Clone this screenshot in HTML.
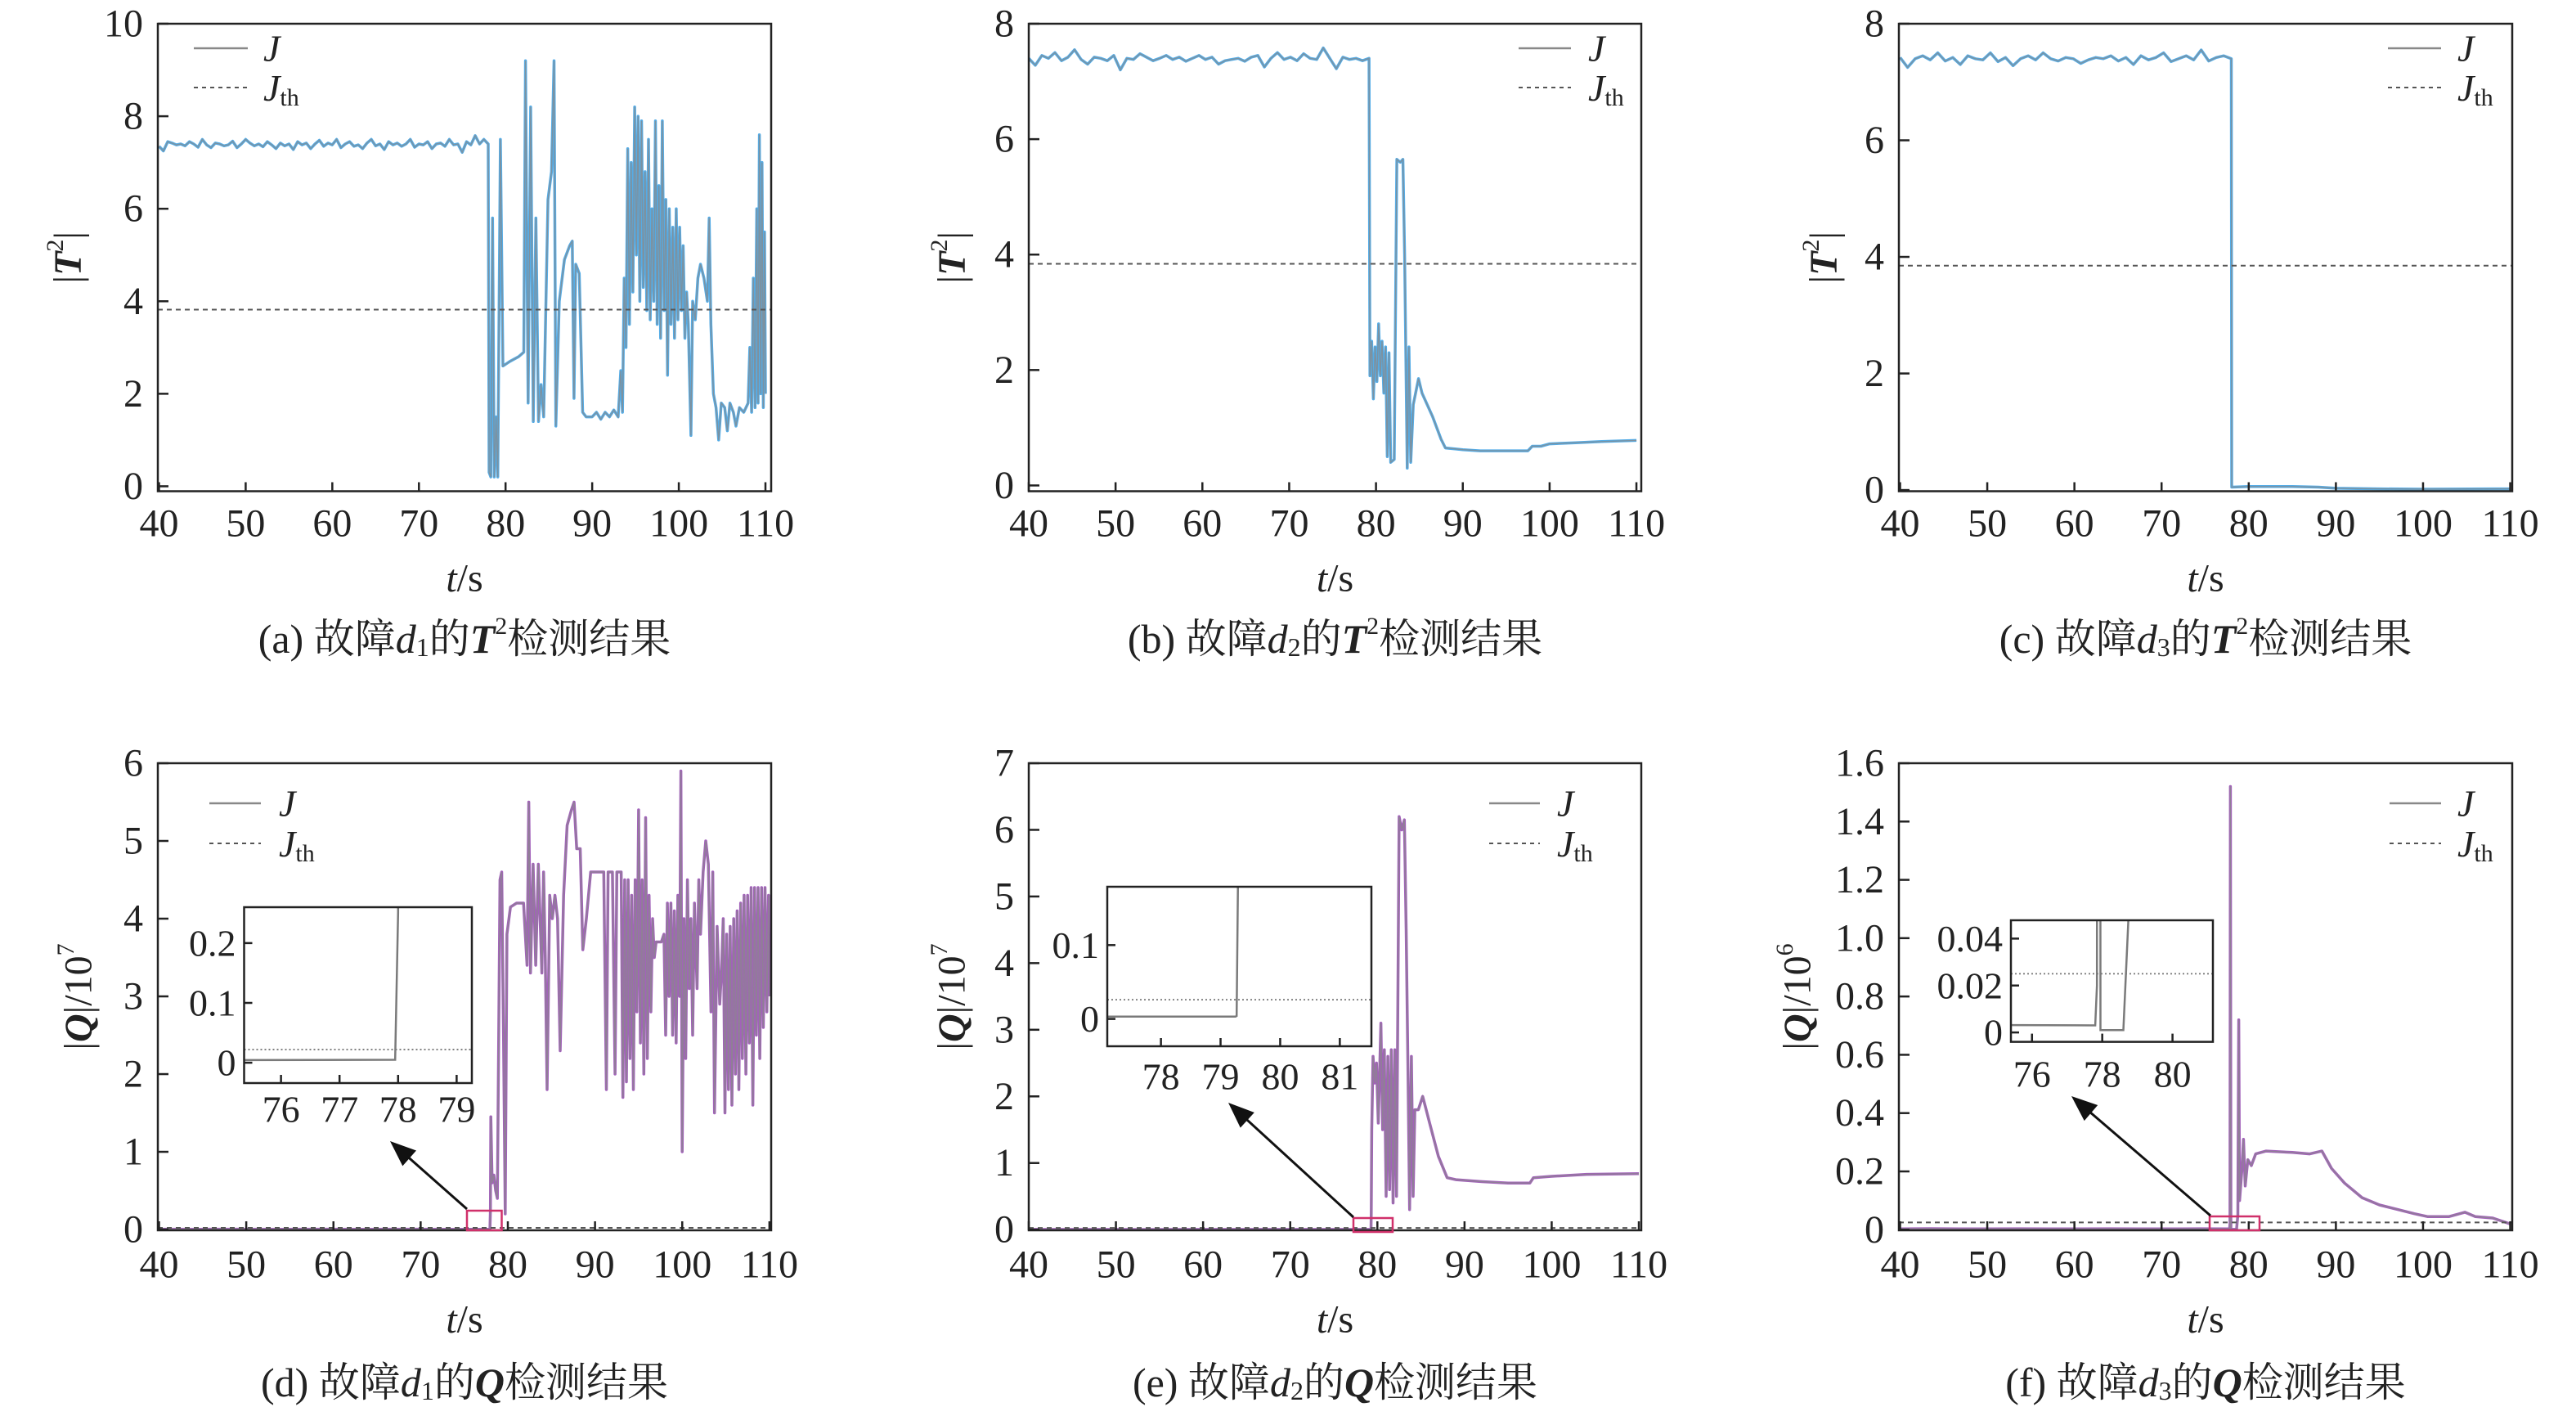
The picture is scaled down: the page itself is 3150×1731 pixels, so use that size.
<!DOCTYPE html>
<html><head><meta charset="utf-8">
<style>
html,body{margin:0;padding:0;background:#fff;}
svg{display:block;font-family:"Liberation Serif","Noto Serif CJK SC",serif;}
</style></head>
<body>
<svg id="chart" width="3150" height="1731" viewBox="0 0 3150 1731" xmlns="http://www.w3.org/2000/svg">
<defs></defs>
</svg>
<script>
// ---------- data ----------
const xTicks = [40,50,60,70,80,90,100,110];
const aYTicks = [0,2,4,6,8,10];
const bYTicks = [0,2,4,6,8];
const cYTicks = [0,2,4,6,8];
const dYTicks = [0,1,2,3,4,5,6];
const eYTicks = [0,1,2,3,4,5,6,7];
const fYTicks = [0,0.2,0.4,0.6,0.8,1.0,1.2,1.4,1.6];
const fYLabels = ["0","0.2","0.4","0.6","0.8","1.0","1.2","1.4","1.6"];

const aPre = [7.35,7.25,7.45,7.42,7.38,7.4,7.36,7.45,7.4,7.33,7.5,7.38,7.32,7.42,7.4,7.36,7.38,7.46,7.32,7.4,7.5,7.42,7.36,7.4,7.34,7.45,7.38,7.3,7.42,7.36,7.4,7.28,7.45,7.38,7.42,7.3,7.4,7.48,7.35,7.42,7.38,7.5,7.32,7.4,7.45,7.35,7.38,7.3,7.42,7.5,7.36,7.4,7.28,7.45,7.38,7.42,7.35,7.4,7.5,7.33,7.4,7.38,7.45,7.3,7.4,7.42,7.35,7.5,7.38,7.4,7.22,7.45,7.38,7.58,7.4,7.5,7.4];
const aFault = [[78.1,0.3],[78.3,0.2],[78.5,5.8],[78.7,0.2],[78.9,1.5],[79.1,0.2],[79.4,7.5],[79.7,2.6],[80.5,2.7],[81.5,2.8],[82.1,2.9],[82.3,9.2],[82.6,1.8],[82.9,8.2],[83.2,1.4],[83.5,5.8],[83.8,1.4],[84.1,2.2],[84.4,1.5],[84.9,6.2],[85.3,6.8],[85.6,9.2],[85.8,1.3],[86.2,4.0],[86.8,4.9],[87.4,5.2],[87.7,5.3],[87.9,1.9],[88.1,4.8],[88.5,4.6],[88.9,1.6],[89.3,1.5],[90,1.5],[90.5,1.6],[91,1.45],[91.5,1.6],[92,1.5],[92.5,1.65],[93,1.5],[93.3,2.5],[93.5,1.6],[93.7,4.5],[93.9,3.0],[94.1,7.3],[94.3,3.5],[94.5,7.0],[94.7,4.2],[94.9,8.2],[95.1,5.0],[95.3,8.0],[95.5,4.0],[95.7,7.9],[95.9,4.3],[96.1,6.8],[96.3,3.8],[96.5,7.5],[96.7,3.6],[96.9,6.0],[97.1,4.0],[97.3,7.9],[97.5,3.5],[97.7,6.5],[97.9,3.2],[98.1,7.9],[98.3,3.8],[98.5,6.2],[98.7,2.4],[98.9,6.0],[99.1,3.5],[99.3,5.6],[99.5,3.2],[99.7,6.0],[99.9,3.6],[100.1,5.6],[100.3,3.8],[100.5,5.2],[100.7,3.2],[100.9,4.2],[101.1,3.5],[101.4,1.1],[101.6,4.0],[101.9,3.6],[102.2,4.5],[102.5,4.8],[102.9,4.5],[103.3,4.0],[103.5,5.8],[103.7,3.5],[104.0,2.0],[104.3,1.7],[104.6,1.0],[104.9,1.8],[105.3,1.7],[105.6,1.2],[105.9,1.8],[106.3,1.6],[106.6,1.3],[107,1.7],[107.5,1.6],[108,1.8],[108.2,3.0],[108.4,1.6],[108.6,4.5],[108.8,1.7],[109,6.0],[109.15,1.8],[109.3,7.6],[109.45,2.0],[109.6,7.0],[109.75,1.7],[109.9,5.5],[110,2.0]];
const bPre = [7.4,7.28,7.45,7.4,7.5,7.36,7.42,7.55,7.38,7.3,7.42,7.4,7.36,7.45,7.2,7.4,7.38,7.48,7.42,7.36,7.4,7.45,7.38,7.42,7.35,7.4,7.45,7.38,7.42,7.3,7.36,7.38,7.4,7.35,7.42,7.45,7.25,7.4,7.5,7.38,7.42,7.36,7.48,7.4,7.38,7.58,7.4,7.22,7.42,7.38,7.4,7.36,7.4];
const bFault = [[79.3,1.9],[79.5,2.5],[79.7,1.5],[79.9,2.4],[80.1,1.8],[80.3,2.8],[80.5,1.9],[80.7,2.5],[80.9,1.6],[81.1,2.4],[81.3,0.5],[81.5,2.3],[81.7,0.4],[82.1,0.45],[82.4,5.65],[82.8,5.6],[83.1,5.65],[83.3,4.0],[83.6,0.3],[83.8,2.4],[84.0,0.4],[84.3,1.4],[84.9,1.85],[85.3,1.6],[86.5,1.2],[87.5,0.8],[88,0.65],[90,0.62],[92,0.6],[95,0.6],[97.5,0.6],[98,0.68],[99,0.68],[100,0.72],[103,0.74],[106,0.76],[110,0.78]];
const cPre = [7.42,7.25,7.4,7.45,7.38,7.5,7.36,7.42,7.3,7.45,7.4,7.38,7.5,7.35,7.42,7.28,7.4,7.45,7.38,7.5,7.4,7.36,7.42,7.4,7.32,7.38,7.42,7.4,7.45,7.36,7.42,7.3,7.45,7.38,7.42,7.5,7.35,7.4,7.45,7.38,7.55,7.36,7.42,7.45,7.4];
const cFault = [[78.05,0.05],[80,0.06],[85,0.06],[88,0.05],[90,0.03],[95,0.02],[100,0.015],[110,0.02]];
const dPre = [0.005,0.004,0.005,0.004,0.005,0.004,0.005,0.004,0.005];
const dFault = [[78.0,0.25],[78.05,1.45],[78.2,0.6],[78.4,0.7],[78.6,0.5],[78.8,0.4],[79.1,4.5],[79.3,4.6],[79.5,2.5],[79.7,0.2],[79.9,3.8],[80.3,4.15],[81,4.2],[81.8,4.2],[82.2,3.4],[82.4,5.5],[82.6,3.3],[82.9,4.7],[83.2,3.4],[83.5,4.7],[83.9,3.3],[84.1,4.6],[84.3,3.5],[84.5,1.8],[84.8,4.3],[85.1,4.0],[85.4,4.3],[85.7,4.0],[86,2.3],[86.4,4.3],[86.8,5.2],[87.3,5.4],[87.6,5.5],[87.9,4.9],[88.3,4.9],[88.6,3.6],[89,4.0],[89.5,4.6],[90,4.6],[90.5,4.6],[91,4.6],[91.3,1.8],[91.5,4.6],[92,4.6],[92.3,2.0],[92.5,4.6],[93,4.6],[93.2,1.7],[93.4,4.5],[93.6,1.9],[93.8,4.5],[94,2.2],[94.2,4.3],[94.4,1.8],[94.6,4.5],[94.8,2.8],[95,5.4],[95.2,2.4],[95.4,4.5],[95.6,2.0],[95.8,5.3],[96,2.2],[96.2,4.3],[96.4,2.8],[96.6,4.0],[96.8,3.5],[97,3.7],[97.3,3.7],[97.6,3.7],[97.9,3.8],[98.1,2.5],[98.3,4.2],[98.5,3.0],[98.7,4.2],[98.9,2.5],[99.1,4.1],[99.3,2.4],[99.5,4.3],[99.7,3.0],[99.85,5.9],[100,1.0],[100.2,4.0],[100.4,2.2],[100.6,4.5],[100.8,3.1],[101,4.0],[101.2,2.5],[101.4,4.2],[101.7,3.1],[101.9,4.5],[102.1,3.8],[102.4,4.6],[102.7,5.0],[103,4.7],[103.3,2.8],[103.5,4.6],[103.7,1.5],[104,3.9],[104.3,2.9],[104.5,3.3],[104.7,4.0],[104.9,1.5],[105.1,3.8],[105.3,1.8],[105.5,3.9],[105.7,1.6],[105.9,4.0],[106.1,2.0],[106.3,4.1],[106.5,1.8],[106.7,4.2],[106.9,2.2],[107.1,4.3],[107.3,2.0],[107.5,4.3],[107.7,2.4],[107.9,4.4],[108.1,1.6],[108.3,4.4],[108.5,2.5],[108.7,4.4],[108.9,2.2],[109.1,4.4],[109.3,2.6],[109.5,4.4],[109.7,2.8],[109.9,4.3],[110,3.0]];
const ePre = [0.003,0.0035,0.003,0.0028,0.0032,0.003,0.0035,0.003,0.0032];
const eFault = [[79.27,0.004],[79.3,0.25],[79.35,1.5],[79.5,2.6],[79.7,2.2],[79.9,2.5],[80.1,1.6],[80.4,3.1],[80.6,1.5],[80.8,2.7],[81,0.5],[81.2,2.6],[81.4,0.6],[81.6,2.7],[81.8,0.4],[82.0,2.7],[82.2,0.5],[82.5,6.2],[82.8,6.0],[83.1,6.15],[83.3,4.5],[83.5,2.5],[83.7,0.3],[83.9,2.6],[84.1,0.5],[84.3,1.8],[84.7,1.8],[85.2,2.0],[85.5,1.85],[86,1.6],[87,1.1],[88,0.78],[89,0.75],[92,0.72],[95,0.7],[97.5,0.7],[97.9,0.78],[100,0.8],[104,0.83],[110,0.84]];
const fPre = [0.003,0.0035,0.0028,0.003,0.0033,0.0029,0.0031,0.0034,0.003,0.0028,0.0032,0.003];
const fFault = [[77.85,0.02],[77.9,1.52],[77.95,0.001],[78.6,0.001],[78.75,0.05],[78.85,0.72],[78.95,0.1],[79.2,0.2],[79.4,0.31],[79.6,0.15],[79.9,0.24],[80.3,0.22],[80.8,0.26],[82,0.27],[85,0.265],[87,0.26],[88.4,0.27],[89.5,0.21],[91,0.16],[93,0.11],[95,0.085],[97,0.07],[99,0.055],[100.5,0.045],[103,0.045],[104.8,0.06],[106,0.045],[108,0.04],[109.5,0.025],[110,0.02]];
const thresholds = [3.82,3.84,3.85,0.022,0.026,0.025];
const dInsetX = [76,77,78,79];
const dInsetY = [0,0.1,0.2];
const eInsetX = [78,79,80,81];
const eInsetY = [0,0.1];
const fInsetX = [76,78,80];
const fInsetY = [0,0.02,0.04];

// ---------- drawing ----------
const NS = "http://www.w3.org/2000/svg";
const svg = document.getElementById('chart');
function mk(tag, parent){ const e = document.createElementNS(NS, tag); parent.appendChild(e); return e; }
function seriesPts(pre, preStart, preEnd, fault){
  const pts = [];
  for (let i=0;i<pre.length;i++) pts.push([preStart + i*(preEnd-preStart)/(pre.length-1), pre[i]]);
  for (const p of fault) pts.push(p);
  return pts;
}
let clipN = 0;
function addClip(x,y,w,h){
  const defs = svg.querySelector('defs');
  const cp = mk('clipPath', defs); cp.setAttribute('id','clip'+(++clipN));
  const r = mk('rect', cp); r.setAttribute('x',x); r.setAttribute('y',y); r.setAttribute('width',w); r.setAttribute('height',h);
  return 'url(#clip'+clipN+')';
}
function drawLines(g, pts, sx, sy, color, clip){
  const d = pts.map((p,i)=>(i?'L':'M')+sx(p[0]).toFixed(1)+','+sy(p[1]).toFixed(1)).join('');
  const c = mk('path', g);
  
  
  c.setAttribute('d', d); c.setAttribute('fill','none'); c.setAttribute('stroke',color); c.setAttribute('stroke-width','3.5'); c.setAttribute('clip-path',clip); c.setAttribute('stroke-linejoin','round');
  const gr = mk('path', g);
  
  
  gr.setAttribute('d', d); gr.setAttribute('fill','none'); gr.setAttribute('stroke','#8a8a8a'); gr.setAttribute('stroke-width','1.4'); gr.setAttribute('stroke-opacity','0.75'); gr.setAttribute('clip-path',clip);
}
function text(parent, x, y, str, size, anchor){
  const t = mk('text', parent);
  t.setAttribute('x',x); t.setAttribute('y',y); t.setAttribute('font-size',size);
  t.setAttribute('text-anchor',anchor||'middle'); t.setAttribute('dominant-baseline','central'); t.setAttribute('fill','#222');
  t.textContent = str; return t;
}
function panel(o){
  const g = mk('g', svg);
  
  
  const [L,T,R,B] = o.box;
  const sx = v => L + (v-o.xd[0])/(o.xd[1]-o.xd[0])*(R-L);
  const sy = v => B - (v-o.yd[0])/(o.yd[1]-o.yd[0])*(B-T);
  const clip = addClip(L,T,R-L,B-T);
  drawLines(g, o.pts, sx, sy, o.color, clip);
  const th = mk('line', g);
  
  
  th.setAttribute('x1',L); th.setAttribute('x2',R); th.setAttribute('y1',sy(o.thr)); th.setAttribute('y2',sy(o.thr));
  th.setAttribute('stroke','#555'); th.setAttribute('stroke-width','2'); th.setAttribute('stroke-dasharray','6,5');
  const frame = mk('rect', g);
  
  
  frame.setAttribute('x',L); frame.setAttribute('y',T); frame.setAttribute('width',R-L); frame.setAttribute('height',B-T);
  frame.setAttribute('fill','none'); frame.setAttribute('stroke','#222'); frame.setAttribute('stroke-width','2.5');
  xTicks.forEach(v=>{
    const tk = mk('line', g);
    
    
    tk.setAttribute('x1',sx(v)); tk.setAttribute('x2',sx(v)); tk.setAttribute('y1',B); tk.setAttribute('y2',B-11);
    tk.setAttribute('stroke','#222'); tk.setAttribute('stroke-width','2.5');
    const lb = text(g, sx(v), o.xLabelY, String(v), 48);
    
    
  });
  o.yt.forEach((v,i)=>{
    const tk = mk('line', g);
    
    
    tk.setAttribute('x1',L); tk.setAttribute('x2',L+13); tk.setAttribute('y1',sy(v)); tk.setAttribute('y2',sy(v));
    tk.setAttribute('stroke','#222'); tk.setAttribute('stroke-width','2.5');
    const lb = text(g, L-18, sy(v), o.yl ? o.yl[i] : String(v), 48, 'end');
    
    
  });
  const xt = mk('text', g);
  
  
  xt.setAttribute('x',(L+R)/2); xt.setAttribute('y',o.xTitleY); xt.setAttribute('font-size','48'); xt.setAttribute('text-anchor','middle'); xt.setAttribute('dominant-baseline','central'); xt.setAttribute('fill','#222');
  xt.innerHTML = '<tspan font-style="italic">t</tspan>/s';
  const yt = mk('text', g);
  
  
  yt.setAttribute('transform','translate('+o.yTitleX+','+(T+B)/2+') rotate(-90)');
  yt.setAttribute('font-size','48'); yt.setAttribute('text-anchor','middle'); yt.setAttribute('dominant-baseline','central'); yt.setAttribute('fill','#222');
  yt.innerHTML = o.yTitle;
  const cap = mk('text', g);
  
  
  cap.setAttribute('x',(L+R)/2); cap.setAttribute('y',o.capY); cap.setAttribute('font-size','50'); cap.setAttribute('text-anchor','middle'); cap.setAttribute('dominant-baseline','central'); cap.setAttribute('fill','#222');
  cap.innerHTML = o.caption;
  const lg = mk('g', g);
  
  
  const l1 = mk('line', lg);
  
  
  l1.setAttribute('x1',o.leg[0]); l1.setAttribute('x2',o.leg[1]); l1.setAttribute('y1',o.leg[3]); l1.setAttribute('y2',o.leg[3]); l1.setAttribute('stroke','#888'); l1.setAttribute('stroke-width','2.5');
  const l2 = mk('line', lg);
  
  
  l2.setAttribute('x1',o.leg[0]); l2.setAttribute('x2',o.leg[1]); l2.setAttribute('y1',o.leg[4]); l2.setAttribute('y2',o.leg[4]); l2.setAttribute('stroke','#555'); l2.setAttribute('stroke-width','2'); l2.setAttribute('stroke-dasharray','5,5');
  const t1 = mk('text', lg);
  
  
  t1.setAttribute('x',o.leg[2]); t1.setAttribute('y',o.leg[3]); t1.setAttribute('font-size','46'); t1.setAttribute('dominant-baseline','central'); t1.setAttribute('font-style','italic'); t1.setAttribute('fill','#222');
  t1.textContent = 'J';
  const t2 = mk('text', lg);
  
  
  t2.setAttribute('x',o.leg[2]); t2.setAttribute('y',o.leg[4]); t2.setAttribute('font-size','46'); t2.setAttribute('dominant-baseline','central'); t2.setAttribute('fill','#222');
  t2.innerHTML = '<tspan font-style="italic">J</tspan><tspan font-size="30" dy="12">th</tspan>';
  if (o.inset) inset(g, o, o.inset);
}
function inset(g, o, s){
  const ig = mk('g', g);
  
  
  const [L,T,R,B] = s.box;
  const sx = v => L + (v-s.xd[0])/(s.xd[1]-s.xd[0])*(R-L);
  const sy = v => B - (v-s.yd[0])/(s.yd[1]-s.yd[0])*(B-T);
  const bg = mk('rect', ig);
  
  
  bg.setAttribute('x',L); bg.setAttribute('y',T); bg.setAttribute('width',R-L); bg.setAttribute('height',B-T); bg.setAttribute('fill','#fff');
  const clip = addClip(L,T,R-L,B-T);
  const th = mk('line', ig);
  
  
  th.setAttribute('x1',L); th.setAttribute('x2',R); th.setAttribute('y1',sy(o.thr)); th.setAttribute('y2',sy(o.thr));
  th.setAttribute('stroke','#777'); th.setAttribute('stroke-width','1.8'); th.setAttribute('stroke-dasharray','2,3');
  const d = o.pts.map((p,i)=>(i?'L':'M')+sx(p[0]).toFixed(1)+','+sy(p[1]).toFixed(1)).join('');
  const ln = mk('path', ig);
  
  
  ln.setAttribute('d',d); ln.setAttribute('fill','none'); ln.setAttribute('stroke','#7a7a7a'); ln.setAttribute('stroke-width','2.5'); ln.setAttribute('clip-path',clip);
  const fr = mk('rect', ig);
  
  
  fr.setAttribute('x',L); fr.setAttribute('y',T); fr.setAttribute('width',R-L); fr.setAttribute('height',B-T); fr.setAttribute('fill','none'); fr.setAttribute('stroke','#222'); fr.setAttribute('stroke-width','2.5');
  s.xt.forEach(v=>{
    const tk = mk('line', ig);
    
    
    tk.setAttribute('x1',sx(v)); tk.setAttribute('x2',sx(v)); tk.setAttribute('y1',B); tk.setAttribute('y2',B-10); tk.setAttribute('stroke','#222'); tk.setAttribute('stroke-width','2.5');
    const lb = text(ig, sx(v), s.xLabelY, String(v), 46);
    
    
  });
  s.yt.forEach(v=>{
    const tk = mk('line', ig);
    
    
    tk.setAttribute('x1',L); tk.setAttribute('x2',L+10); tk.setAttribute('y1',sy(v)); tk.setAttribute('y2',sy(v)); tk.setAttribute('stroke','#222'); tk.setAttribute('stroke-width','2.5');
    const lb = text(ig, L-10, sy(v), String(v), 46, 'end');
    
    
  });
  const rr = mk('rect', ig);
  
  
  rr.setAttribute('x',s.red[0]); rr.setAttribute('y',s.red[1]); rr.setAttribute('width',s.red[2]-s.red[0]); rr.setAttribute('height',s.red[3]-s.red[1]);
  rr.setAttribute('fill','none'); rr.setAttribute('stroke','#d0306a'); rr.setAttribute('stroke-width','2.5');
  const ar = mk('line', ig);
  
  
  const [x1,y1,x2,y2] = s.arrow;
  const ang = Math.atan2(y2-y1,x2-x1), hl = 34;
  ar.setAttribute('x1',x1); ar.setAttribute('y1',y1); ar.setAttribute('x2',x2-Math.cos(ang)*hl*0.8); ar.setAttribute('y2',y2-Math.sin(ang)*hl*0.8);
  ar.setAttribute('stroke','#111'); ar.setAttribute('stroke-width','3');
  const hd = mk('polygon', ig);
  
  
  const p1 = [x2,y2], p2 = [x2-Math.cos(ang-0.38)*hl, y2-Math.sin(ang-0.38)*hl], p3 = [x2-Math.cos(ang+0.38)*hl, y2-Math.sin(ang+0.38)*hl];
  hd.setAttribute('points',[p1,p2,p3].map(p=>p.join(',')).join(' ')); hd.setAttribute('fill','#111');
}
const T2 = '|<tspan font-weight="bold" font-style="italic">T</tspan><tspan font-size="30" dy="-16">2</tspan><tspan dy="16">|</tspan>';
function Qt(e){ return '|<tspan font-weight="bold" font-style="italic">Q</tspan>|/10<tspan font-size="30" dy="-16">'+e+'</tspan>'; }
function cap(l,n,sym,sup){ return '('+l+') 故障<tspan font-style="italic">d</tspan><tspan font-size="32" dy="10">'+n+'</tspan><tspan dy="-10">的</tspan><tspan font-weight="bold" font-style="italic">'+sym+'</tspan>'+(sup?'<tspan font-size="30" dy="-16">2</tspan><tspan dy="16">检测结果</tspan>':'检测结果'); }
const topCol = '#55ace6', botCol = '#a262ba';
panel({name:'panel-a-t2-d1', box:[193,29,943,600.5], xd:[39.86,110.66], yd:[-0.107,10], yt:aYTicks, pts:seriesPts(aPre,40,78,aFault), thr:thresholds[0], color:topCol, xLabelY:640, xTitleY:707, capY:781, yTitleX:83, yTitle:T2, caption:cap('a','1','T',true), leg:[237,303,322,59,107]});
panel({name:'panel-b-t2-d2', box:[1258,29,2007,600.5], xd:[40,110.56], yd:[-0.1,8], yt:bYTicks, pts:seriesPts(bPre,40,79.2,bFault), thr:thresholds[1], color:topCol, xLabelY:640, xTitleY:707, capY:781, yTitleX:1164, yTitle:T2, caption:cap('b','2','T',true), leg:[1857,1921,1942,59,107]});
panel({name:'panel-c-t2-d3', box:[2322,29,3072,600.5], xd:[39.86,110.23], yd:[-0.02,8], yt:cYTicks, pts:seriesPts(cPre,40,78,cFault), thr:thresholds[2], color:topCol, xLabelY:640, xTitleY:707, capY:781, yTitleX:2230, yTitle:T2, caption:cap('c','3','T',true), leg:[2920,2985,3005,59,107]});
panel({name:'panel-d-q-d1', box:[193,933,943,1504], xd:[39.86,110.2], yd:[-0.01,6], yt:dYTicks, pts:seriesPts(dPre,40,77.95,dFault), thr:thresholds[3], color:botCol, xLabelY:1546, xTitleY:1613, capY:1690, yTitleX:96, yTitle:Qt(7), caption:cap('d','1','Q',false), leg:[256,319,341,982,1031],
  inset:{box:[298.5,1109,577,1324], xd:[75.37,79.26], yd:[-0.034,0.26], xt:dInsetX, yt:dInsetY, xLabelY:1356, red:[571,1480,613.5,1504], arrow:[571,1478,477,1395]}});
panel({name:'panel-e-q-d2', box:[1258,933,2007,1504], xd:[40,110.28], yd:[-0.01,7], yt:eYTicks, pts:seriesPts(ePre,40,79.25,eFault), thr:thresholds[4], color:botCol, xLabelY:1546, xTitleY:1613, capY:1690, yTitleX:1164, yTitle:Qt(7), caption:cap('e','2','Q',false), leg:[1821,1883,1904,982,1031],
  inset:{box:[1354,1084,1677,1279], xd:[77.1,81.53], yd:[-0.037,0.179], xt:eInsetX, yt:eInsetY, xLabelY:1316, red:[1655,1489,1703,1506], arrow:[1655,1488,1502,1348]}});
panel({name:'panel-f-q-d3', box:[2322,933,3072,1504], xd:[39.86,110.23], yd:[-0.002,1.6], yt:fYTicks, yl:fYLabels, pts:seriesPts(fPre,40,77.8,fFault), thr:thresholds[5], color:botCol, xLabelY:1546, xTitleY:1613, capY:1690, yTitleX:2198, yTitle:Qt(6), caption:cap('f','3','Q',false), leg:[2922,2985,3005,982,1031],
  inset:{box:[2459,1125,2706,1273.6], xd:[75.4,81.15], yd:[-0.004,0.0478], xt:fInsetX, yt:fInsetY, xLabelY:1313, red:[2702,1487,2763,1504], arrow:[2703,1486,2533,1340]}});
</script>
</body></html>
